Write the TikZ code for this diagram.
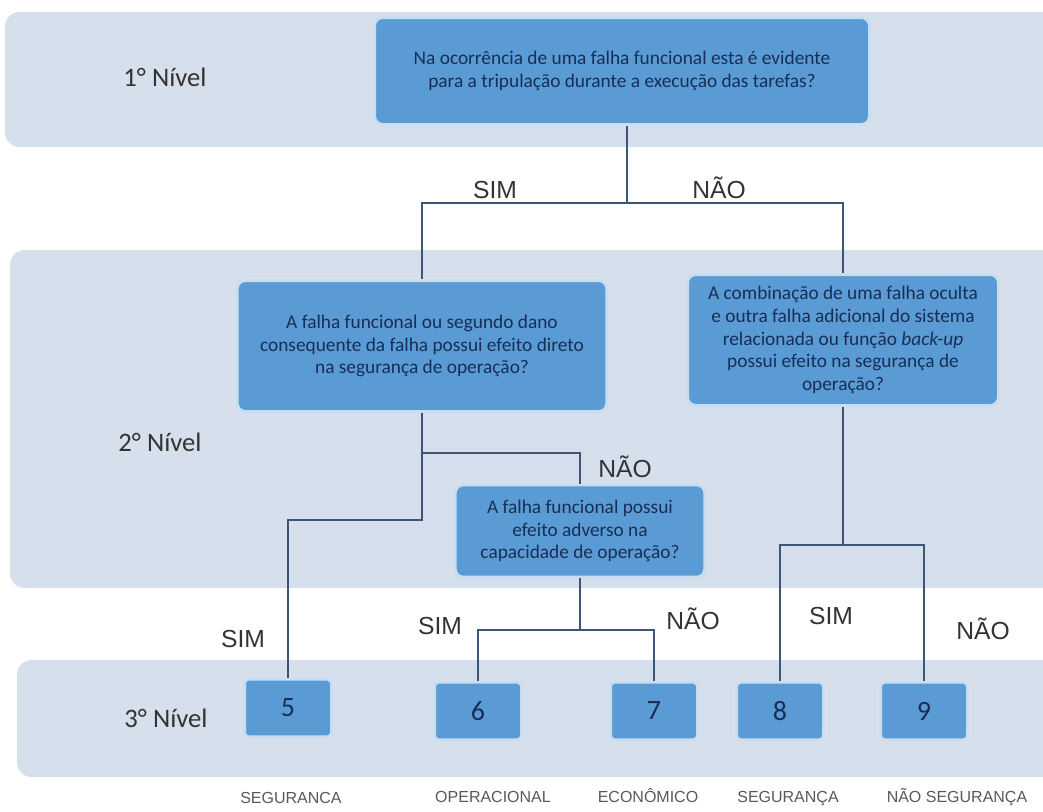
\documentclass[tikz,border=0pt]{standalone}
\usepackage{fontspec}
\setmainfont{Carlito}
\newfontfamily\arialfont{Liberation Sans}
\definecolor{corbanda}{HTML}{D6DFEC}
\definecolor{corcaixa}{HTML}{5B9BD5}
\definecolor{corborda}{HTML}{C9DDF1}
\definecolor{cortexto}{HTML}{172E55}
\definecolor{corlinha}{HTML}{3E5676}

\begin{document}
\begin{tikzpicture}
                [x=0.75pt,y=-0.75pt,
                banda/.style={fill=corbanda,rounded corners=11pt},
                caixa/.style={rectangle,rounded corners=6pt,fill=corcaixa,draw=corborda,line width=2pt,
                  text=cortexto,align=center,font=\fontsize{14.5}{17}\selectfont},
                numero/.style={caixa,rounded corners=3pt,font=\fontsize{21}{24}\selectfont,
                  minimum width=65pt,minimum height=43pt},
                nivel/.style={text=black!80,font=\fontsize{20}{22}\selectfont},
                resposta/.style={text=black!80,font=\arialfont\fontsize{18.5}{20}\selectfont,
                  text height=13.5pt,text depth=0pt},
                categoria/.style={text=black!65,font=\arialfont\fontsize{12}{14}\selectfont,
                  text height=9pt,text depth=2pt},
                linha/.style={draw=corlinha,line width=1.1pt}]
                \useasboundingbox (0,0) rectangle (1043,811);
                \clip (0,0) rectangle (1043,811);
                % faixas dos niveis
                \fill[banda] (5,12) rectangle (1080,147);
                \fill[banda] (10,250) rectangle (1080,588);
                \fill[banda] (17,660) rectangle (1080,777);
                \node[nivel] (niv1) at (165,77) {1° Nível};
                \node[nivel] (niv2) at (160,442) {2° Nível};
                \node[nivel] (niv3) at (166,718) {3° Nível};
                % perguntas
                \node[caixa,minimum width=371pt,minimum height=80pt] (q1) at (622,71)
                  {Na ocorrência de uma falha funcional esta é evidente\\para a tripulação durante a execução das tarefas?};
                \node[caixa,minimum width=277pt,minimum height=98pt] (q2) at (422,346)
                  {A falha funcional ou segundo dano\\consequente da falha possui efeito direto\\na segurança de operação?};
                \node[caixa,minimum width=233pt,minimum height=98pt] (q3) at (843,340)
                  {A combinação de uma falha oculta\\e outra falha adicional do sistema\\relacionada ou função \textit{back-up}\\possui efeito na segurança de\\operação?};
                \node[caixa,minimum width=187pt,minimum height=69pt] (q4) at (580,531)
                  {A falha funcional possui\\efeito adverso na\\capacidade de operação?};
                % resultados
                \node[numero] (n5) at (288,708) {5};
                \node[numero] (n6) at (478,711) {6};
                \node[numero] (n7) at (654,711) {7};
                \node[numero] (n8) at (780,711) {8};
                \node[numero] (n9) at (924,711) {9};
                % ligacoes
                \coordinate (j1) at (627,203);
                \coordinate (j2) at (422,453);
                \coordinate (j3) at (422,520);
                \coordinate (j4) at (580,630);
                \coordinate (j5) at (843,545);
                \draw[linha] (q1.south -| j1) -- (j1);
                \draw[linha] (j1) -| (q2);
                \draw[linha] (j1) -| (q3);
                \draw[linha] (q2.south) -- (j3) -| (n5);
                \draw[linha] (j2) -| (q4);
                \draw[linha] (q4.south) -- (j4);
                \draw[linha] (j4) -| (n6);
                \draw[linha] (j4) -| (n7);
                \draw[linha] (q3.south) -- (j5);
                \draw[linha] (j5) -| (n8);
                \draw[linha] (j5) -| (n9);
                % respostas
                \node[resposta] (s1) at (495,189) {SIM};
                \node[resposta] (r1) at (719,189) {NÃO};
                \node[resposta] (r2) at (625,468) {NÃO};
                \node[resposta] (s2) at (243,638) {SIM};
                \node[resposta] (s3) at (440,625) {SIM};
                \node[resposta] (r3) at (693,620) {NÃO};
                \node[resposta] (s4) at (831,615) {SIM};
                \node[resposta] (r4) at (983,630) {NÃO};
                % categorias
                \node[categoria] (c5) at (291,799) {SEGURANCA};
                \node[categoria] (c6) at (493,798) {OPERACIONAL};
                \node[categoria] (c7) at (648,798) {ECONÔMICO};
                \node[categoria] (c8) at (788,798) {SEGURANÇA};
                \node[categoria] (c9) at (957,798) {NÃO SEGURANÇA};
            \end{tikzpicture}
\end{document}
